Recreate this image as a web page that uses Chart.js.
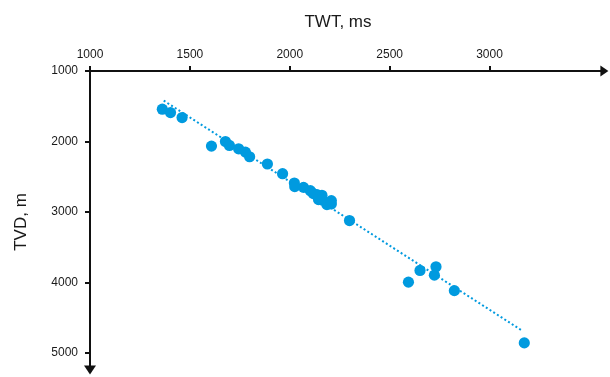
<!DOCTYPE html>
<html>
<head>
<meta charset="utf-8">
<script src="https://cdn.jsdelivr.net/npm/chart.js@4/dist/chart.umd.min.js"></script>
<style>
  html, body { margin: 0; padding: 0; background: #fff; }
  #c { display: block; }
</style>
</head>
<body>
<canvas id="c" width="610" height="377"></canvas>
<script>
// Well data: two-way time (ms) vs true vertical depth (m)
const twt = [1362, 1403, 1461, 1608, 1678, 1698, 1744, 1778, 1799, 1888, 1964,
             2023, 2025, 2069, 2103, 2118, 2136, 2161, 2144, 2163, 2186, 2208, 2208,
             2299, 2594, 2652, 2732, 2724, 2824, 3174];
const tvd = [1542, 1590, 1660, 2065, 2000, 2056, 2103, 2150, 2216, 2319, 2456,
             2588, 2640, 2650, 2697, 2739, 2753, 2763, 2824, 2831, 2895, 2885, 2838,
             3121, 3994, 3828, 3776, 3895, 4115, 4856];

// Linear trend endpoints
const trendTwt = [1369, 3166];
const trendTvd = [1420, 4687];

// Axis tick labels
const twtTicks = [1000, 1500, 2000, 2500, 3000];
const tvdTicks = [1000, 2000, 3000, 4000, 5000];

const BLUE = '#009ADF';
const INK = '#111111';
const FONT = '"Liberation Sans", Arial, sans-serif';

const points = twt.map((x, i) => ({ x: x, y: tvd[i] }));
const trend = trendTwt.map((x, i) => ({ x: x, y: trendTvd[i] }));

// Arrowheads just past the ends of both axes, plus the axis titles
const axisDecor = {
  id: 'axisDecor',
  afterDraw(chart) {
    const ctx = chart.ctx;
    const a = chart.chartArea;
    const xTip = a.right + 4;
    const yTip = a.bottom + 3;
    ctx.save();
    ctx.strokeStyle = INK;
    ctx.lineWidth = 2;
    ctx.beginPath();
    ctx.moveTo(a.right - 1, a.top);
    ctx.lineTo(xTip - 2, a.top);
    ctx.moveTo(a.left, a.bottom - 1);
    ctx.lineTo(a.left, yTip - 2);
    ctx.stroke();

    ctx.fillStyle = INK;
    ctx.beginPath();
    ctx.moveTo(xTip, a.top);
    ctx.lineTo(xTip - 8, a.top - 5.5);
    ctx.lineTo(xTip - 8, a.top + 5.5);
    ctx.closePath();
    ctx.fill();

    ctx.beginPath();
    ctx.moveTo(a.left, yTip);
    ctx.lineTo(a.left - 6, yTip - 9);
    ctx.lineTo(a.left + 6, yTip - 9);
    ctx.closePath();
    ctx.fill();

    ctx.fillStyle = '#1a1a1a';
    ctx.font = '17px ' + FONT;
    ctx.textAlign = 'center';
    ctx.textBaseline = 'alphabetic';
    ctx.fillText('TWT, ms', 338, 27);
    ctx.translate(26, 222);
    ctx.rotate(-Math.PI / 2);
    ctx.fillText('TVD, m', 0, 0);
    ctx.restore();
  }
};

const plain = v => String(v);

new Chart(document.getElementById('c'), {
  data: {
    datasets: [
      {
        type: 'line',
        data: trend,
        borderColor: BLUE,
        borderWidth: 2,
        borderDash: [2, 2.4],
        pointRadius: 0,
        fill: false,
        order: 2
      },
      {
        type: 'scatter',
        data: points,
        backgroundColor: BLUE,
        borderWidth: 0,
        pointRadius: 5.6,
        pointHoverRadius: 5.6,
        order: 1
      }
    ]
  },
  options: {
    responsive: false,
    animation: false,
    events: [],
    layout: { padding: 0 },
    plugins: { legend: { display: false }, tooltip: { enabled: false } },
    scales: {
      x: {
        type: 'linear',
        position: 'top',
        min: 1000,
        max: 3575,
        afterBuildTicks(s) { s.ticks = twtTicks.map(v => ({ value: v })); },
        afterFit(s) { s.height = 71; s.paddingLeft = 0; s.paddingRight = 0; },
        grid: { drawOnChartArea: false, drawTicks: true, tickLength: 5, color: INK, lineWidth: 2 },
        border: { display: true, color: INK, width: 2 },
        ticks: { color: '#1a1a1a', font: { family: FONT, size: 12 }, padding: 4, maxRotation: 0, callback: plain }
      },
      y: {
        type: 'linear',
        position: 'left',
        reverse: true,
        min: 1000,
        max: 5260,
        afterBuildTicks(s) { s.ticks = tvdTicks.map(v => ({ value: v })); },
        afterFit(s) { s.width = 90; s.paddingTop = 0; s.paddingBottom = 0; },
        grid: { drawOnChartArea: false, drawTicks: true, tickLength: 5, color: INK, lineWidth: 2 },
        border: { display: true, color: INK, width: 2 },
        ticks: { color: '#1a1a1a', font: { family: FONT, size: 12 }, padding: 7, callback: plain }
      }
    }
  },
  plugins: [axisDecor]
});
</script>
</body>
</html>
